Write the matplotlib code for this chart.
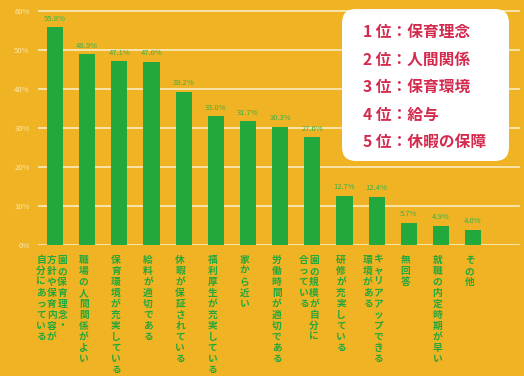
import matplotlib.pyplot as plt
from matplotlib.patches import FancyBboxPatch

plt.rcParams['font.family'] = ['Noto Sans CJK JP', 'DejaVu Sans']

# each label is a list of vertical columns, read right to left
labels = [
    ["園の保育理念・", "方針や保育内容が", "自分にあっている"],
    ["職場の人間関係がよい"],
    ["保育環境が充実している"],
    ["給料が適切である"],
    ["休暇が保証されている"],
    ["福利厚生が充実している"],
    ["家から近い"],
    ["労働時間が適切である"],
    ["園の規模が自分に", "合っている"],
    ["研修が充実している"],
    ["キャリアアップできる", "環境がある"],
    ["無回答"],
    ["就職の内定時期が早い"],
    ["その他"],
]
values = [55.8, 48.9, 47.1, 47.0, 39.2, 33.0, 31.7, 30.3, 27.6, 12.7, 12.4, 5.7, 4.9, 4.0]
yticks = [0, 10, 20, 30, 40, 50, 60]
ranking = ["1 位：保育理念", "2 位：人間関係", "3 位：保育環境", "4 位：給与", "5 位：休暇の保障"]

bg = "#F0B323"
green = "#22A83C"
cream = "#F8E9B4"
red = "#D42A4E"

fig = plt.figure(figsize=(5.24, 3.76), dpi=100, facecolor=bg)
ax = fig.add_axes([0.0725, 0.348, 0.92, 0.627])
ax.set_facecolor(bg)

x = list(range(len(values)))
ax.bar(x, values, width=0.5, color=green, zorder=3)
ax.set_xlim(-0.53, 14.46)
ax.set_ylim(0, 60.4)

ax.set_yticks(yticks)
ax.set_yticklabels([f"{v}%" for v in yticks], color=cream, fontsize=5.5)
ax.tick_params(axis="y", length=0, pad=6)
ax.set_xticks([])
ax.yaxis.grid(True, color=cream, lw=1.3)
ax.set_axisbelow(True)
for s in ax.spines.values():
    s.set_visible(False)

for i, v in enumerate(values):
    ax.text(i, v + 1.2, f"{v:.1f}%", ha="center", va="bottom", fontsize=5.5, color="#3DB04A")

# vertical (tategaki) tick labels
step = 7.6
for i, cols in enumerate(labels):
    n = len(cols)
    for k, col in enumerate(cols):
        dx = -2.5 + ((n - 1) / 2 - k) * step
        ax.annotate("\n".join(col), xy=(i, 0), xycoords=("data", "axes fraction"),
                    xytext=(dx, -7), textcoords="offset points",
                    ha="center", va="top", fontsize=7, color=green, fontweight="bold",
                    linespacing=1.12, annotation_clip=False)

# ranking box
box = FancyBboxPatch((3.42, 2.15), 1.67, 1.52, boxstyle="round,pad=0,rounding_size=0.14",
                     transform=fig.dpi_scale_trans, facecolor="white", edgecolor="none", zorder=5)
fig.patches.append(box)
for k, t in enumerate(ranking):
    fig.text(3.63, 3.44 - k * 0.275, t, transform=fig.dpi_scale_trans, ha="left", va="center",
             fontsize=11.3, color=red, fontweight="bold", zorder=6)

fig.savefig("out.png", dpi=100, facecolor=bg)
